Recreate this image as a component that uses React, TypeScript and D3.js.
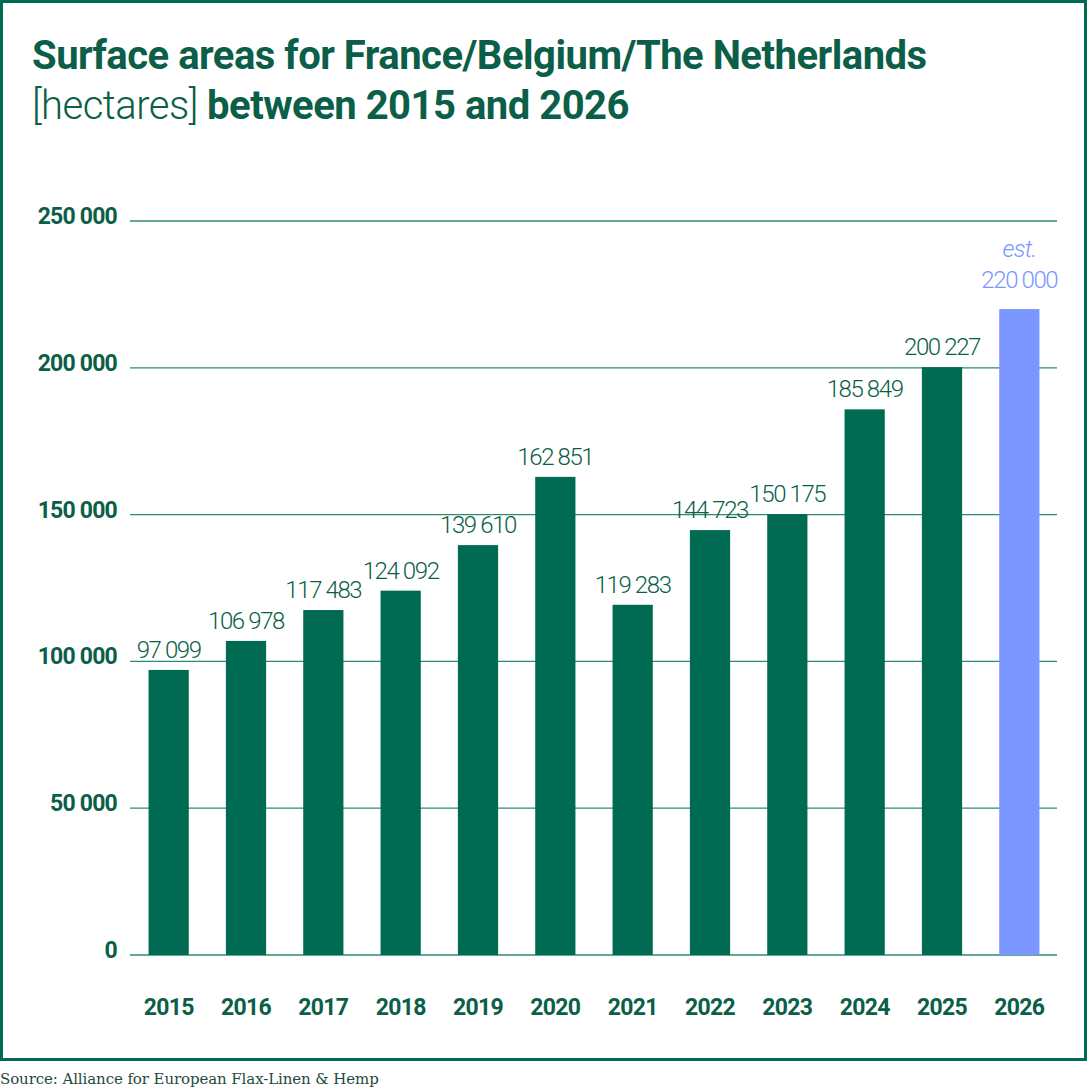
import React from 'react';
import * as d3 from 'd3';

const years = ['2015', '2016', '2017', '2018', '2019', '2020', '2021', '2022', '2023', '2024', '2025', '2026'];
const hectares = [97099, 106978, 117483, 124092, 139610, 162851, 119283, 144723, 150175, 185849, 200227, 220000];
const estimated = [false, false, false, false, false, false, false, false, false, false, false, true];
const yTicks = [0, 50000, 100000, 150000, 200000, 250000];

const GREEN = '#006a52';
const TEXT = '#0b5e47';
const BLUE = '#7b96ff';

const fmt = (v: number) => d3.format(',')(v).replace(/,/g, ' ');

const App = () => {
  const ref = React.useRef<SVGSVGElement>(null);

  React.useEffect(() => {
    const svg = d3.select(ref.current);
    svg.selectAll('*').remove();

    const width = 1088;
    const height = 1088;
    const font = 'Roboto, sans-serif';

    const x = d3.scaleBand<string>()
      .domain(years)
      .range([130, 1058])
      .paddingInner(0.48)
      .paddingOuter(0.24);

    const y = d3.scaleLinear()
      .domain([0, 250000])
      .range([955, 221]);

    svg.append('rect')
      .attr('width', width)
      .attr('height', height)
      .attr('fill', '#fff');

    // frame
    svg.append('rect')
      .attr('x', 1.5)
      .attr('y', 1.5)
      .attr('width', 1084)
      .attr('height', 1058)
      .attr('fill', 'none')
      .attr('stroke', GREEN)
      .attr('stroke-width', 3);

    // title
    const title = svg.append('text')
      .attr('x', 32)
      .attr('font-family', font)
      .attr('fill', TEXT)
      .attr('font-size', 40)
      .attr('letter-spacing', -0.5);
    title.append('tspan')
      .attr('x', 32)
      .attr('y', 69)
      .attr('font-weight', 700)
      .text('Surface areas for France/Belgium/The Netherlands');
    title.append('tspan')
      .attr('x', 32)
      .attr('y', 119)
      .attr('font-weight', 300)
      .text('[hectares] ');
    title.append('tspan')
      .attr('font-weight', 700)
      .text('between 2015 and 2026');

    // grid
    svg.append('g')
      .selectAll('line')
      .data(yTicks)
      .join('line')
      .attr('x1', 130)
      .attr('x2', 1057)
      .attr('y1', d => y(d))
      .attr('y2', d => y(d))
      .attr('stroke', '#2f8a73')
      .attr('stroke-width', 1.3);

    svg.append('g')
      .selectAll('text')
      .data(yTicks)
      .join('text')
      .attr('x', 117)
      .attr('y', d => y(d) + 3)
      .attr('text-anchor', 'end')
      .attr('font-family', font)
      .attr('font-weight', 700)
      .attr('font-size', 23)
      .attr('letter-spacing', -0.8)
      .attr('fill', TEXT)
      .text(d => fmt(d));

    // bars
    svg.append('g')
      .selectAll('rect')
      .data(years)
      .join('rect')
      .attr('x', d => x(d)!)
      .attr('width', x.bandwidth())
      .attr('y', (d, i) => y(hectares[i]))
      .attr('height', (d, i) => y(0) - y(hectares[i]))
      .attr('fill', (d, i) => (estimated[i] ? BLUE : GREEN));

    // value labels
    svg.append('g')
      .selectAll('text')
      .data(years)
      .join('text')
      .attr('x', d => x(d)! + x.bandwidth() / 2)
      .attr('y', (d, i) => y(hectares[i]) - (estimated[i] ? 21 : 12))
      .attr('text-anchor', 'middle')
      .attr('font-family', font)
      .attr('font-weight', 300)
      .attr('font-size', 24)
      .attr('letter-spacing', -1.4)
      .attr('fill', (d, i) => (estimated[i] ? BLUE : TEXT))
      .text((d, i) => fmt(hectares[i]));

    svg.append('g')
      .selectAll('text')
      .data(years.filter((d, i) => estimated[i]))
      .join('text')
      .attr('x', d => x(d)! + x.bandwidth() / 2)
      .attr('y', d => y(hectares[years.indexOf(d)]) - 52)
      .attr('text-anchor', 'middle')
      .attr('font-family', font)
      .attr('font-weight', 300)
      .attr('font-style', 'italic')
      .attr('font-size', 24)
      .attr('letter-spacing', -0.8)
      .attr('fill', BLUE)
      .text('est.');

    // year labels
    svg.append('g')
      .selectAll('text')
      .data(years)
      .join('text')
      .attr('x', d => x(d)! + x.bandwidth() / 2)
      .attr('y', 1015)
      .attr('text-anchor', 'middle')
      .attr('font-family', font)
      .attr('font-weight', 700)
      .attr('font-size', 23)
      .attr('letter-spacing', -0.7)
      .attr('fill', TEXT)
      .text(d => d);

    svg.append('text')
      .attr('x', 0)
      .attr('y', 1084)
      .attr('font-family', '"DejaVu Serif", serif')
      .attr('font-size', 15)
      .attr('letter-spacing', -0.1)
      .attr('fill', '#1f4a3e')
      .text('Source: Alliance for European Flax-Linen & Hemp');
  }, []);

  return (
    <svg
      ref={ref}
      width={1088}
      height={1088}
      style={{ position: 'absolute', left: 0, top: 0 }}
    />
  );
};

export default App;
